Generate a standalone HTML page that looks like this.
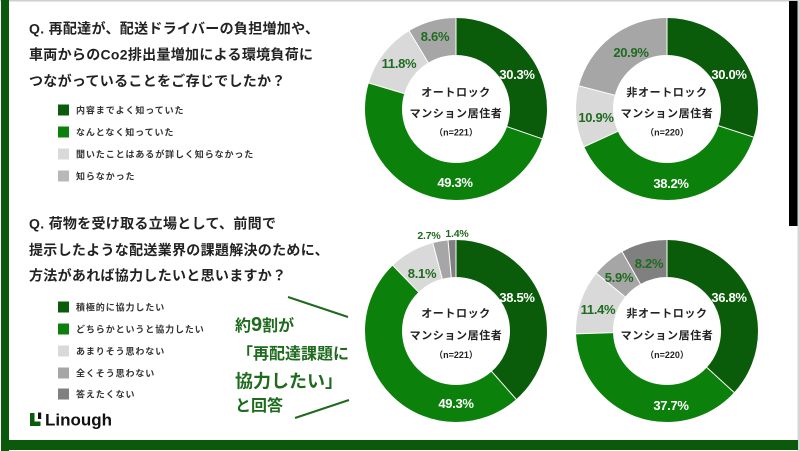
<!DOCTYPE html>
<html>
<head>
<meta charset="utf-8">
<style>
  html,body{margin:0;padding:0;background:#fff;}
  body{width:800px;height:451px;overflow:hidden;}
  svg{display:block;}
  .jp{font-family:"Liberation Sans","Noto Sans CJK JP",sans-serif;font-weight:bold;}
  .q{font-size:14px;fill:#222;letter-spacing:0.3px;}
  .lg{font-size:9px;fill:#333;letter-spacing:0.9px;}
  .ct{font-size:11px;fill:#222;letter-spacing:0.6px;text-anchor:middle;}
  .cn{font-size:9px;fill:#222;text-anchor:middle;}
  .pw{font-family:"Liberation Sans",sans-serif;font-weight:bold;font-size:13px;fill:#fff;text-anchor:middle;letter-spacing:-0.3px;}
  .pg{font-family:"Liberation Sans",sans-serif;font-weight:bold;font-size:13px;fill:#1f6b1f;text-anchor:middle;letter-spacing:-0.3px;}
  .ps{font-family:"Liberation Sans",sans-serif;font-weight:bold;font-size:10.5px;fill:#1f6b1f;text-anchor:middle;letter-spacing:-0.2px;}
  .co{fill:#1e6b1e;}
</style>
</head>
<body>
<svg width="800" height="451" viewBox="0 0 800 451" xmlns="http://www.w3.org/2000/svg">
  <!-- frame -->
  <rect x="0" y="0" width="800" height="451" fill="#fff"/>
  <rect x="0" y="0" width="800" height="1.5" fill="#cfcfcf"/>
  <rect x="797.5" y="0" width="2.5" height="451" fill="#d5d5d5"/>
  <rect x="1" y="0" width="8" height="451" fill="#0b5a0b"/>
  <rect x="1" y="440" width="797" height="10" fill="#0b5a0b"/>
  <rect x="789" y="1" width="8.5" height="225" fill="#000"/>

  <!-- Question 1 -->
  <text class="jp q" x="29" y="33.5">Q. 再配達が、配送ドライバーの負担増加や、</text>
  <text class="jp q" x="29" y="59.5">車両からのCo2排出量増加による環境負荷に</text>
  <text class="jp q" x="29" y="86">つながっていることをご存じでしたか？</text>

  <!-- Legend 1 -->
  <rect x="58" y="104.5" width="11" height="11" fill="#0a5c0a"/>
  <text class="jp lg" x="76" y="113.5">内容までよく知っていた</text>
  <rect x="58" y="126.5" width="11" height="11" fill="#0b800b"/>
  <text class="jp lg" x="76" y="135.5">なんとなく知っていた</text>
  <rect x="58" y="148.5" width="11" height="11" fill="#d9d9d9"/>
  <text class="jp lg" x="76" y="157.5">聞いたことはあるが詳しく知らなかった</text>
  <rect x="58" y="170.5" width="11" height="11" fill="#b8b8b8"/>
  <text class="jp lg" x="76" y="179.5">知らなかった</text>

  <!-- Question 2 -->
  <text class="jp q" x="29" y="228.5">Q. 荷物を受け取る立場として、前問で</text>
  <text class="jp q" x="29" y="255">提示したような配送業界の課題解決のために、</text>
  <text class="jp q" x="29" y="280.5">方法があれば協力したいと思いますか？</text>

  <!-- Legend 2 -->
  <rect x="58" y="301.5" width="11" height="11" fill="#0a5c0a"/>
  <text class="jp lg" x="76" y="310.5">積極的に協力したい</text>
  <rect x="58" y="323.5" width="11" height="11" fill="#0b800b"/>
  <text class="jp lg" x="76" y="332.5">どちらかというと協力したい</text>
  <rect x="58" y="345.5" width="11" height="11" fill="#d9d9d9"/>
  <text class="jp lg" x="76" y="354.5">あまりそう思わない</text>
  <rect x="58" y="367.5" width="11" height="11" fill="#a6a6a6"/>
  <text class="jp lg" x="76" y="376.5">全くそう思わない</text>
  <rect x="58" y="388.5" width="11" height="11" fill="#808080"/>
  <text class="jp lg" x="76" y="397.5">答えたくない</text>

  <!-- Callout -->
  <line x1="288" y1="297" x2="348" y2="317" stroke="#1e6b1e" stroke-width="2"/>
  <line x1="295" y1="418" x2="349" y2="400" stroke="#1e6b1e" stroke-width="2"/>
  <text class="jp co" x="235" y="331" font-size="16"><tspan>約</tspan><tspan font-size="20">9</tspan><tspan>割が</tspan></text>
  <text class="jp co" x="237" y="359" font-size="16">「再配達課題に</text>
  <text class="jp co" x="235" y="387.5" font-size="18">協力したい」</text>
  <text class="jp co" x="235" y="411" font-size="16">と回答</text>

  <!-- Logo -->
  <rect x="30" y="413" width="4.5" height="13" fill="#0a5c0a"/>
  <rect x="30" y="421.5" width="10.5" height="4.5" fill="#0a5c0a"/>
  <rect x="38" y="412.5" width="3.2" height="6.5" fill="#111"/>
  <text x="45" y="425.5" font-family="Liberation Sans, sans-serif" font-weight="bold" font-size="17" fill="#111">Linough</text>

  <!-- Donut 1 -->
  <g transform="translate(456,109)">
    <g transform="rotate(-90)" fill="none" stroke-width="37">
      <circle r="72.5" stroke="#0a5c0a" stroke-dasharray="138.01 455.53" stroke-dashoffset="0"/>
      <circle r="72.5" stroke="#0b800b" stroke-dasharray="224.57 455.53" stroke-dashoffset="-138.01"/>
      <circle r="72.5" stroke="#d9d9d9" stroke-dasharray="53.75 455.53" stroke-dashoffset="-362.58"/>
      <circle r="72.5" stroke="#a6a6a6" stroke-dasharray="39.18 455.53" stroke-dashoffset="-416.33"/>
    </g>
    <g stroke="#fff" stroke-width="1">
      <line x1="0" y1="-53" x2="0" y2="-92"/>
      <line x1="0" y1="-53" x2="0" y2="-92" transform="rotate(109.08)"/>
      <line x1="0" y1="-53" x2="0" y2="-92" transform="rotate(286.56)"/>
      <line x1="0" y1="-53" x2="0" y2="-92" transform="rotate(329.04)"/>
    </g>
  </g>
  <text class="pw" x="517" y="79">30.3%</text>
  <text class="pw" x="455" y="187">49.3%</text>
  <text class="pg" x="399" y="68">11.8%</text>
  <text class="pg" x="435" y="41">8.6%</text>
  <text class="jp ct" x="456" y="96">オートロック</text>
  <text class="jp ct" x="456" y="117">マンション居住者</text>
  <text class="jp cn" x="456" y="135.5">（n=221）</text>

  <!-- Donut 2 -->
  <g transform="translate(667,109)">
    <g transform="rotate(-90)" fill="none" stroke-width="37">
      <circle r="72.5" stroke="#0a5c0a" stroke-dasharray="136.66 455.53" stroke-dashoffset="0"/>
      <circle r="72.5" stroke="#0b800b" stroke-dasharray="174.01 455.53" stroke-dashoffset="-136.66"/>
      <circle r="72.5" stroke="#d9d9d9" stroke-dasharray="49.65 455.53" stroke-dashoffset="-310.67"/>
      <circle r="72.5" stroke="#a6a6a6" stroke-dasharray="95.21 455.53" stroke-dashoffset="-360.32"/>
    </g>
    <g stroke="#fff" stroke-width="1">
      <line x1="0" y1="-53" x2="0" y2="-92"/>
      <line x1="0" y1="-53" x2="0" y2="-92" transform="rotate(108)"/>
      <line x1="0" y1="-53" x2="0" y2="-92" transform="rotate(245.52)"/>
      <line x1="0" y1="-53" x2="0" y2="-92" transform="rotate(284.76)"/>
    </g>
  </g>
  <text class="pw" x="729" y="79">30.0%</text>
  <text class="pw" x="671" y="188">38.2%</text>
  <text class="pg" x="596" y="122">10.9%</text>
  <text class="pg" x="631" y="57">20.9%</text>
  <text class="jp ct" x="667" y="96">非オートロック</text>
  <text class="jp ct" x="667" y="117">マンション居住者</text>
  <text class="jp cn" x="667" y="135.5">（n=220）</text>

  <!-- Donut 3 -->
  <g transform="translate(456,331)">
    <g transform="rotate(-90)" fill="none" stroke-width="37">
      <circle r="72.5" stroke="#0a5c0a" stroke-dasharray="175.38 455.53" stroke-dashoffset="0"/>
      <circle r="72.5" stroke="#0b800b" stroke-dasharray="224.58 455.53" stroke-dashoffset="-175.38"/>
      <circle r="72.5" stroke="#d9d9d9" stroke-dasharray="36.90 455.53" stroke-dashoffset="-399.96"/>
      <circle r="72.5" stroke="#a6a6a6" stroke-dasharray="12.30 455.53" stroke-dashoffset="-436.86"/>
      <circle r="72.5" stroke="#808080" stroke-dasharray="6.38 455.53" stroke-dashoffset="-449.16"/>
    </g>
    <g stroke="#fff" stroke-width="1">
      <line x1="0" y1="-53" x2="0" y2="-92"/>
      <line x1="0" y1="-53" x2="0" y2="-92" transform="rotate(138.6)"/>
      <line x1="0" y1="-53" x2="0" y2="-92" transform="rotate(316.08)"/>
      <line x1="0" y1="-53" x2="0" y2="-92" transform="rotate(345.24)"/>
      <line x1="0" y1="-53" x2="0" y2="-92" transform="rotate(354.96)"/>
    </g>
  </g>
  <text class="pw" x="517" y="302">38.5%</text>
  <text class="pw" x="456" y="408">49.3%</text>
  <text class="pg" x="422" y="278">8.1%</text>
  <text class="ps" x="429" y="239">2.7%</text>
  <text class="ps" x="457" y="237">1.4%</text>
  <text class="jp ct" x="456" y="317">オートロック</text>
  <text class="jp ct" x="456" y="339">マンション居住者</text>
  <text class="jp cn" x="456" y="358">（n=221）</text>

  <!-- Donut 4 -->
  <g transform="translate(667,331)">
    <g transform="rotate(-90)" fill="none" stroke-width="37">
      <circle r="72.5" stroke="#0a5c0a" stroke-dasharray="167.64 455.53" stroke-dashoffset="0"/>
      <circle r="72.5" stroke="#0b800b" stroke-dasharray="171.73 455.53" stroke-dashoffset="-167.64"/>
      <circle r="72.5" stroke="#d9d9d9" stroke-dasharray="51.93 455.53" stroke-dashoffset="-339.37"/>
      <circle r="72.5" stroke="#a6a6a6" stroke-dasharray="26.88 455.53" stroke-dashoffset="-391.30"/>
      <circle r="72.5" stroke="#808080" stroke-dasharray="37.35 455.53" stroke-dashoffset="-418.18"/>
    </g>
    <g stroke="#fff" stroke-width="1">
      <line x1="0" y1="-53" x2="0" y2="-92"/>
      <line x1="0" y1="-53" x2="0" y2="-92" transform="rotate(132.48)"/>
      <line x1="0" y1="-53" x2="0" y2="-92" transform="rotate(268.2)"/>
      <line x1="0" y1="-53" x2="0" y2="-92" transform="rotate(309.24)"/>
      <line x1="0" y1="-53" x2="0" y2="-92" transform="rotate(330.48)"/>
    </g>
  </g>
  <text class="pw" x="729" y="302">36.8%</text>
  <text class="pw" x="671" y="410">37.7%</text>
  <text class="pg" x="598" y="314">11.4%</text>
  <text class="pg" x="619" y="282">5.9%</text>
  <text class="pg" x="649" y="268">8.2%</text>
  <text class="jp ct" x="667" y="317">非オートロック</text>
  <text class="jp ct" x="667" y="339">マンション居住者</text>
  <text class="jp cn" x="667" y="358">（n=220）</text>
</svg>
</body>
</html>
